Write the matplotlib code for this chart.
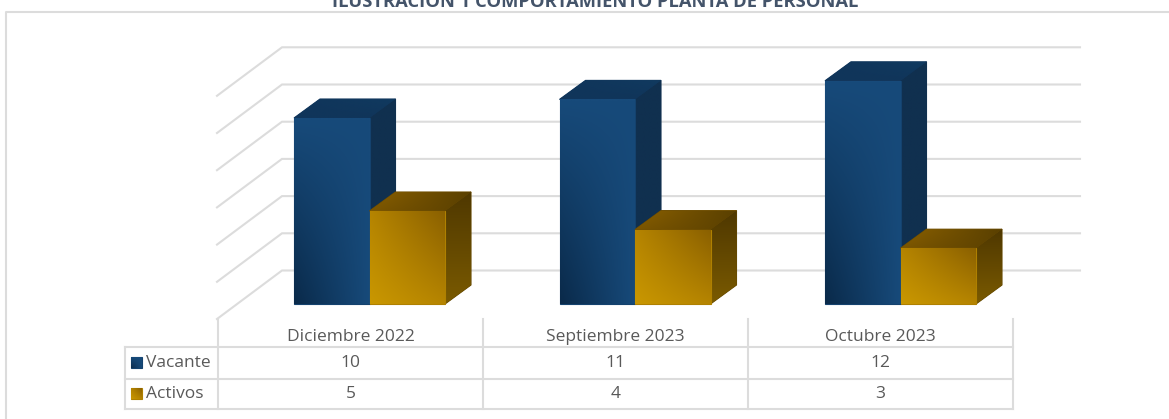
import numpy as np
import matplotlib
matplotlib.use("Agg")
import matplotlib.pyplot as plt
from matplotlib.patches import Polygon

plt.rcParams['font.family'] = ['Open Sans', 'DejaVu Sans']

title = "ILUSTRACIÓN 1 COMPORTAMIENTO PLANTA DE PERSONAL"
categories = ["Diciembre 2022", "Septiembre 2023", "Octubre 2023"]
vacante = [10, 11, 12]
activos = [5, 4, 3]
grid_values = [0, 2, 4, 6, 8, 10, 12]

W, H = 1169, 419
# pixel scale of the chart: one category and one unit of value
X0, X_STEP = 369.5, 265.5
Y0, Y_STEP = 304.0, 18.6
BAR_W = 75.5 / X_STEP
DX, DY = 26 / X_STEP, 19 / Y_STEP

GRID = '#dcdcdc'
TEXT = '#595959'
LABEL_SIZE = 12.5


def px(x):
    return (x - X0) / X_STEP


def py(y):
    return (Y0 - y) / Y_STEP


def shade(ax, pts, ll, lr, ul, ur, z):
    # four corner colours, clipped to the face polygon
    pts = np.array(pts)
    u, v = np.meshgrid(np.linspace(0, 1, 48), np.linspace(0, 1, 48))
    c = [np.array(matplotlib.colors.to_rgb(k)) for k in (ll, lr, ul, ur)]
    img = np.zeros((48, 48, 3))
    for i in range(3):
        img[:, :, i] = ((1 - u) * (1 - v) * c[0][i] + u * (1 - v) * c[1][i]
                        + (1 - u) * v * c[2][i] + u * v * c[3][i])
    # solid face behind the gradient closes the seams between faces
    ax.add_patch(Polygon(pts, closed=True, facecolor=np.mean(c, axis=0),
                         edgecolor=np.mean(c, axis=0), lw=0.8, zorder=z - 0.01))
    ext = [pts[:, 0].min(), pts[:, 0].max(), pts[:, 1].min(), pts[:, 1].max()]
    im = ax.imshow(img, origin='lower', extent=ext, aspect='auto', zorder=z,
                   interpolation='bilinear')
    poly = Polygon(pts, closed=True, facecolor='none', edgecolor='none',
                   transform=ax.transData)
    ax.add_patch(poly)
    im.set_clip_path(poly)


def draw_box(ax, x, w, v, front, side, top, z):
    f = [(x, 0), (x + w, 0), (x + w, v), (x, v)]
    s = [(x + w, 0), (x + w + DX, DY), (x + w + DX, v + DY), (x + w, v)]
    t = [(x, v), (x + w, v), (x + w + DX, v + DY), (x + DX, v + DY)]
    shade(ax, s, *side, z)
    shade(ax, t, *top, z)
    shade(ax, f, *front, z + 0.1)


fig = plt.figure(figsize=(W / 100, H / 100), dpi=100)
ax = fig.add_axes([0, 0, 1, 1])
ax.axis('off')

# walls of the 3d box
wall_left, wall_right, side_left = px(282), px(1080), px(217)
for g in grid_values:
    back = g + py(270.5)
    front = g + py(319)
    ax.plot([side_left, wall_left, wall_right], [front, back, back],
            color=GRID, lw=1.5, zorder=1, solid_joinstyle='miter')

# bars
blue_front = ('#0a2a4a', '#174a7a', '#174a7a', '#174a7a')
blue_side = ('#10304f', '#10304f', '#10304f', '#10304f')
blue_top = ('#10355a', '#10355a', '#10355a', '#103a60')
gold_front = ('#c99700', '#b58400', '#b58400', '#8a6000')
gold_side = ('#7a5a00', '#7a5a00', '#4f3800', '#4f3800')
gold_top = ('#7a5500', '#5a4000', '#8a6000', '#5a4000')
for i in range(len(categories)):
    draw_box(ax, i - BAR_W, BAR_W, vacante[i], blue_front, blue_side, blue_top, 3 + i)
    draw_box(ax, i, BAR_W, activos[i], gold_front, gold_side, gold_top, 3.5 + i)

# data table under the chart
t_left, t_x0, t_x3 = px(124.5), px(218), px(1013)
rows = [py(347), py(378.5), py(409)]
for r in rows:
    ax.plot([t_left, t_x3], [r, r], color=GRID, lw=1.5, zorder=2)
ax.plot([t_left, t_left], [rows[0], rows[2]], color=GRID, lw=1.5, zorder=2)
col_w = (t_x3 - t_x0) / len(categories)
for i in range(len(categories) + 1):
    ax.plot([t_x0 + i * col_w] * 2, [py(319), rows[2]], color=GRID, lw=1.5, zorder=2)

for i, cat in enumerate(categories):
    cx = t_x0 + (i + 0.5) * col_w
    ax.text(cx, py(337), cat, ha='center', va='center', color=TEXT, fontsize=LABEL_SIZE)
    ax.text(cx, py(362.5), str(vacante[i]), ha='center', va='center', color=TEXT, fontsize=LABEL_SIZE)
    ax.text(cx, py(393.5), str(activos[i]), ha='center', va='center', color=TEXT, fontsize=LABEL_SIZE)

for name, yc, cols in [("Vacante", 362.5, blue_front), ("Activos", 393.5, gold_front)]:
    key = [(px(131), py(yc + 5.5)), (px(142), py(yc + 5.5)),
           (px(142), py(yc - 5.5)), (px(131), py(yc - 5.5))]
    shade(ax, key, *cols, 5)
    ax.text(px(145.5), py(yc), name, ha='left', va='center', color=TEXT, fontsize=LABEL_SIZE)

# frame and title, cut at the top like the source
ax.plot([px(5.5), px(5.5), px(1169)], [py(419), py(11.5), py(11.5)], color=GRID, lw=1.5, zorder=2)
ax.text(px(595), py(6.5), title, ha='center', va='baseline', color='#44546a',
        fontsize=13.2, fontweight='bold')

ax.set_xlim(px(0), px(W))
ax.set_ylim(py(H), py(0))

fig.savefig("out.png", dpi=100)
